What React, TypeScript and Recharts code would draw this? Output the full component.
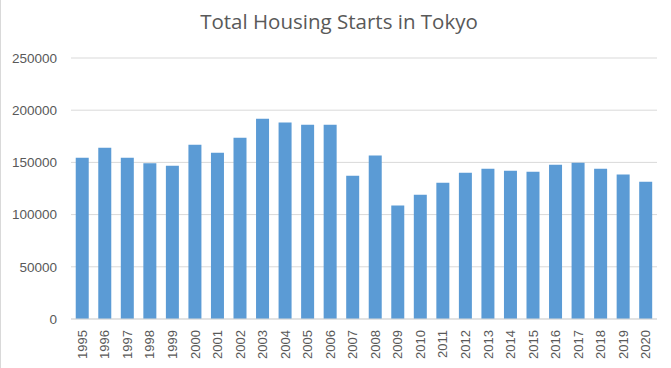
import React from 'react';
import { BarChart, Bar, XAxis, YAxis, CartesianGrid } from 'recharts';

const years = [
  '1995', '1996', '1997', '1998', '1999', '2000', '2001', '2002', '2003', '2004', '2005', '2006', '2007',
  '2008', '2009', '2010', '2011', '2012', '2013', '2014', '2015', '2016', '2017', '2018', '2019', '2020',
];
const starts = [
  154500, 164100, 154500, 149100, 146900, 167000, 159300, 173700, 191900, 188100, 186100, 186100, 137300,
  156500, 108600, 119100, 130600, 140200, 144000, 142100, 141100, 147800, 149700, 144000, 138300, 131500,
];
const yTicks = [0, 50000, 100000, 150000, 200000, 250000];

const data = years.map((y, i) => ({ year: y, value: starts[i] }));

const YearTick = (props: any) => {
  const { x, y, payload } = props;
  return (
    <text
      x={x}
      y={y}
      dy="0.35em"
      textAnchor="end"
      transform={`rotate(-90, ${x}, ${y})`}
      fill="#595959"
      fontSize={13}
      fontFamily="Liberation Sans, Arial, sans-serif"
    >
      {payload.value}
    </text>
  );
};

export default function App() {
  return (
    <div style={{ position: 'absolute', left: 0, top: 0, width: 671, height: 368, background: '#fff', borderLeft: '1px solid #d9d9d9', boxSizing: 'border-box' }}>
      <div
        style={{
          position: 'absolute',
          left: 0,
          top: 7,
          width: 676,
          textAlign: 'center',
          fontFamily: 'Open Sans, sans-serif',
          fontSize: 20.5,
          color: '#595959',
        }}
      >
        Total Housing Starts in Tokyo
      </div>
      <BarChart
        width={670}
        height={368}
        data={data}
        margin={{ top: 58, right: 14, bottom: 0, left: -1 }}
        barCategoryGap="21%"
      >
        <CartesianGrid vertical={false} stroke="#d9d9d9" />
        <XAxis
          dataKey="year"
          interval={0}
          height={49}
          tickLine={false}
          axisLine={{ stroke: '#d9d9d9' }}
          tickMargin={5}
          tick={<YearTick />}
        />
        <YAxis
          width={71}
          domain={[0, 250000]}
          ticks={yTicks}
          axisLine={false}
          tickLine={false}
          tickMargin={8}
          tick={{ fill: '#595959', fontSize: 13.5, fontFamily: 'Liberation Sans, Arial, sans-serif' }}
        />
        <Bar dataKey="value" fill="#5b9bd5" isAnimationActive={false} />
      </BarChart>
    </div>
  );
}
